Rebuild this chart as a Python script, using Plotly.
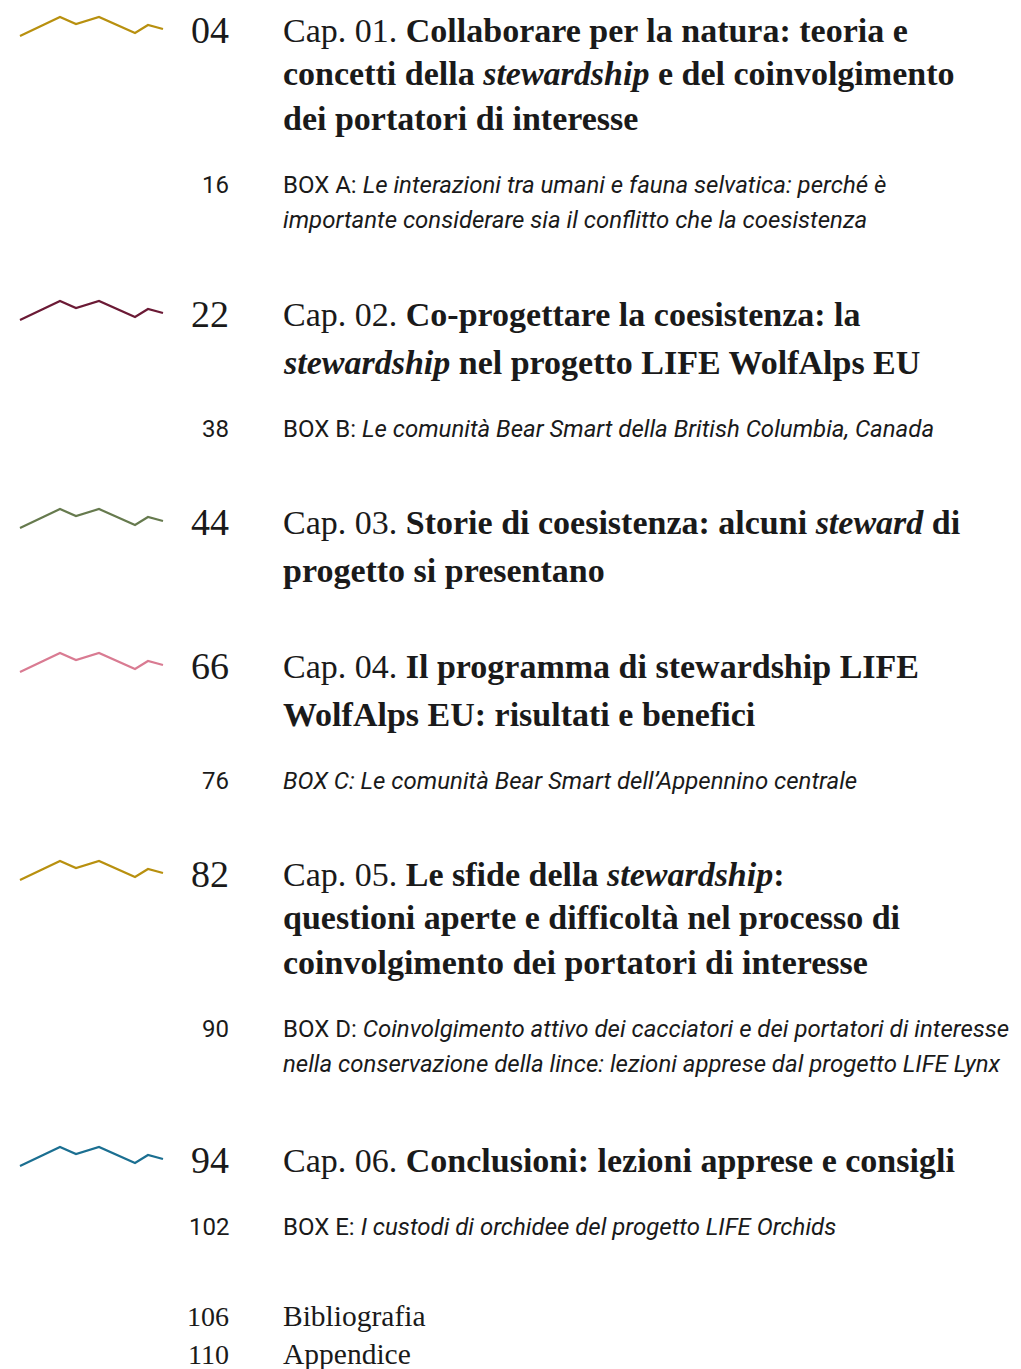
import plotly.graph_objects as go

# ---------------- data ----------------
chapter_pages = ["04", "22", "44", "66", "82", "94"]
chapter_colors = ["#B8900F", "#6B1A35", "#667A4E", "#D97B92", "#B8900F", "#1B6F91"]
chapter_lines = [
    ["Cap. 01. <b>Collaborare per la natura: teoria e</b>",
     "<b>concetti della <i>stewardship</i> e del coinvolgimento</b>",
     "<b>dei portatori di interesse</b>"],
    ["Cap. 02. <b>Co-progettare la coesistenza: la</b>",
     "<b><i>stewardship</i> nel progetto LIFE WolfAlps EU</b>"],
    ["Cap. 03. <b>Storie di coesistenza: alcuni <i>steward</i> di</b>",
     "<b>progetto si presentano</b>"],
    ["Cap. 04. <b>Il programma di stewardship LIFE</b>",
     "<b>WolfAlps EU: risultati e benefici</b>"],
    ["Cap. 05. <b>Le sfide della <i>stewardship</i>:</b>",
     "<b>questioni aperte e difficoltà nel processo di</b>",
     "<b>coinvolgimento dei portatori di interesse</b>"],
    ["Cap. 06. <b>Conclusioni: lezioni apprese e consigli</b>"],
]
box_pages = ["16", "38", "76", "90", "102"]
box_lines = [
    ["BOX A: <i>Le interazioni tra umani e fauna selvatica: perché è</i>",
     "<i>importante considerare sia il conflitto che la coesistenza</i>"],
    ["BOX B: <i>Le comunità Bear Smart della British Columbia, Canada</i>"],
    ["<i>BOX C: Le comunità Bear Smart dell’Appennino centrale</i>"],
    ["BOX D: <i>Coinvolgimento attivo dei cacciatori e dei portatori di interesse</i>",
     "<i>nella conservazione della lince: lezioni apprese dal progetto LIFE Lynx</i>"],
    ["BOX E: <i>I custodi di orchidee del progetto LIFE Orchids</i>"],
]
end_pages = ["106", "110"]
end_titles = ["Bibliografia", "Appendice"]

# decorative wave icon profile (x, y offset from the row centre)
wave_x = [20, 60, 76, 99, 135, 148, 163]
wave_dy = [9, -10, -3, -10, 6, -2, 2]

# ---------------- layout positions ----------------
chapter_line_y = [
    [30, 73, 118],
    [314, 362],
    [522, 570],
    [666, 714],
    [874, 917, 962],
    [1160],
]
box_line_y = [
    [185, 220],
    [429],
    [781],
    [1029, 1064],
    [1227],
]
end_y = [1316, 1354]

SERIF = "Liberation Serif, DejaVu Serif, serif"
SANS = "Roboto, sans-serif"
INK = "#1a1a1a"
NUM_X = 231
TEXT_X = 281
PAGE_OFF = 8  # browser default body margin

fig = go.Figure()
ann = []

for page, color, lines, ys in zip(chapter_pages, chapter_colors, chapter_lines, chapter_line_y):
    y0 = ys[0]
    fig.add_trace(go.Scatter(
        x=wave_x, y=[y0 - 3 + d for d in wave_dy], mode="lines",
        line=dict(color=color, width=2.2), hoverinfo="skip", showlegend=False))
    ann.append(dict(x=NUM_X, y=y0, text=page, xanchor="right", yanchor="middle",
                    font=dict(family=SERIF, size=38, color=INK)))
    for t, y in zip(lines, ys):
        ann.append(dict(x=TEXT_X, y=y, text=t, xanchor="left", yanchor="middle",
                        font=dict(family=SERIF, size=34, color=INK)))

for page, lines, ys in zip(box_pages, box_lines, box_line_y):
    ann.append(dict(x=NUM_X, y=ys[0], text=page, xanchor="right", yanchor="middle",
                    font=dict(family=SANS, size=24, color=INK)))
    for t, y in zip(lines, ys):
        ann.append(dict(x=TEXT_X, y=y, text=t, xanchor="left", yanchor="middle",
                        font=dict(family=SANS, size=24, color=INK)))

for page, title, y in zip(end_pages, end_titles, end_y):
    ann.append(dict(x=NUM_X, y=y, text=page, xanchor="right", yanchor="middle",
                    font=dict(family=SERIF, size=28, color=INK)))
    ann.append(dict(x=TEXT_X, y=y, text=title, xanchor="left", yanchor="middle",
                    font=dict(family=SERIF, size=29.5, color=INK)))

for a in ann:
    a.update(xref="x", yref="y", showarrow=False, align="left")

W, H = 1021, 1369
fig.update_layout(
    width=W - PAGE_OFF, height=H - PAGE_OFF,
    margin=dict(l=0, r=0, t=0, b=0),
    paper_bgcolor="white", plot_bgcolor="white",
    xaxis=dict(range=[PAGE_OFF, W], visible=False, fixedrange=True),
    yaxis=dict(range=[H, PAGE_OFF], visible=False, fixedrange=True),
    annotations=ann,
    showlegend=False,
)

fig.write_html("out.html", config={"displayModeBar": False})
